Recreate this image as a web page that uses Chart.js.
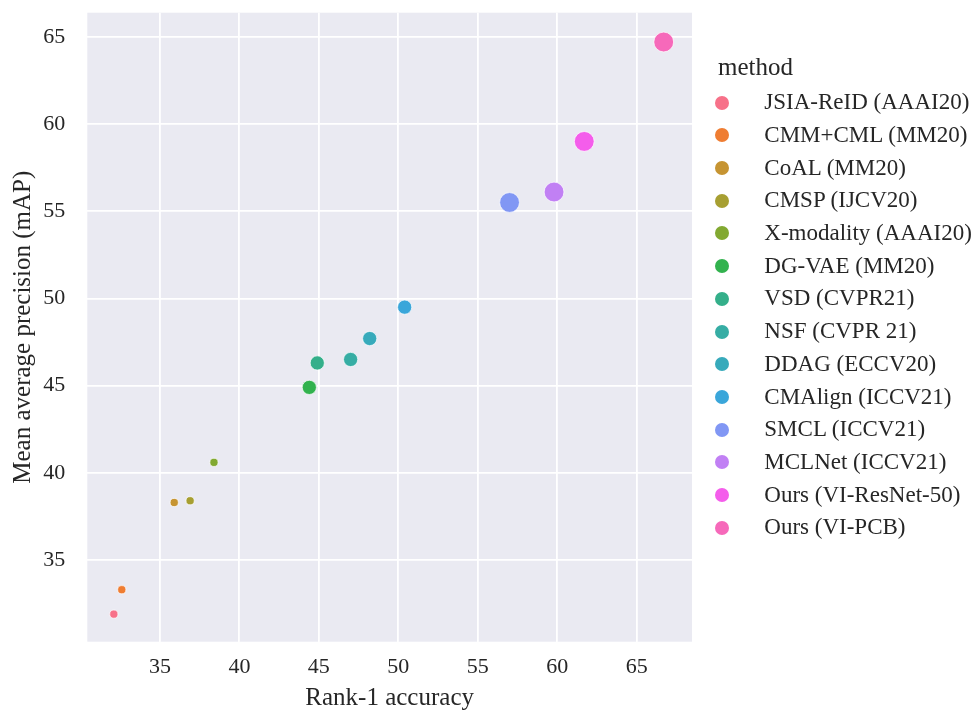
<!DOCTYPE html>
<html>
<head>
<meta charset="utf-8">
<script src="https://cdn.jsdelivr.net/npm/chart.js@4.4.1/dist/chart.umd.min.js"></script>
<style>
  body { margin: 0; background: #fff; }
  #wrap { position: relative; width: 974px; height: 712px; }
  #legend { position: absolute; left: 0; top: 0; font-family: 'Liberation Serif', 'Times New Roman', serif; color: #262626; }
  #legend .title { position: absolute; left: 718px; top: 51.6px; font-size: 25px; line-height: 30px; white-space: nowrap; }
  #legend .items { position: absolute; left: 0; top: 86.35px; }
  #legend .item { position: relative; height: 32.7px; line-height: 32.7px; font-size: 23px; white-space: nowrap; }
  #legend .dot { position: absolute; left: 715px; top: 9.35px; width: 14px; height: 14px; border-radius: 50%; }
  #legend .lbl { position: absolute; left: 764.3px; top: 0; }
</style>
</head>
<body>
<div id="wrap">
  <canvas id="chart" width="974" height="712"></canvas>
  <div id="legend"></div>
</div>
<script>
const methods = [
  'JSIA-ReID (AAAI20)', 'CMM+CML (MM20)', 'CoAL (MM20)', 'CMSP (IJCV20)',
  'X-modality (AAAI20)', 'DG-VAE (MM20)', 'VSD (CVPR21)', 'NSF (CVPR 21)',
  'DDAG (ECCV20)', 'CMAlign (ICCV21)', 'SMCL (ICCV21)', 'MCLNet (ICCV21)',
  'Ours (VI-ResNet-50)', 'Ours (VI-PCB)'
];
const rank1 = [32.1, 32.6, 35.9, 36.9, 38.4, 44.4, 44.9, 47.0, 48.2, 50.4, 57.0, 59.8, 61.7, 66.7];
const mAP = [31.9, 33.3, 38.3, 38.4, 40.6, 44.9, 46.3, 46.5, 47.7, 49.5, 55.5, 56.1, 59.0, 64.7];
const sizeLevel = [1, 1, 1, 1, 1, 2, 2, 2, 2, 2, 3, 3, 3, 3];
const xTicks = [35, 40, 45, 50, 55, 60, 65];
const yTicks = [35, 40, 45, 50, 55, 60, 65];

// seaborn husl palette, 14 hues
const colors = [
  '#f77189', '#ef7d32', '#c69432', '#a79f32', '#82a931', '#32b24e', '#34af8a',
  '#36ada4', '#37aabb', '#3aa6da', '#8197f4', '#c180f4', '#f45deb', '#f669ba'
];

const radius = { 1: 4.1, 2: 7.1, 3: 9.9 };
const textColor = '#262626';
Chart.defaults.font.family = "'Liberation Serif', 'Times New Roman', serif";
Chart.defaults.color = textColor;

const plotBg = {
  id: 'plotBg',
  beforeDraw(chart) {
    const { ctx, chartArea: a } = chart;
    ctx.save();
    ctx.fillStyle = '#eaeaf2';
    ctx.fillRect(a.left, a.top, a.width, a.height);
    ctx.restore();
  }
};

new Chart(document.getElementById('chart'), {
  type: 'scatter',
  data: {
    datasets: methods.map((m, i) => ({
      label: m,
      data: [{ x: rank1[i], y: mAP[i] }],
      backgroundColor: colors[i],
      borderColor: '#ffffff',
      borderWidth: 0.7,
      pointRadius: radius[sizeLevel[i]]
    }))
  },
  options: {
    responsive: false,
    animation: false,
    layout: { padding: { top: 12.7, right: 282, left: 0, bottom: 0 } },
    plugins: { legend: { display: false }, tooltip: { enabled: false } },
    scales: {
      x: {
        type: 'linear', min: 30.43, max: 68.48,
        afterBuildTicks: s => { s.ticks = xTicks.map(v => ({ value: v })); },
        afterFit: s => { s.height = 70.3; s.paddingLeft = 0; s.paddingRight = 0; },
        grid: { color: '#ffffff', lineWidth: 1.8, drawTicks: false },
        border: { display: false },
        ticks: { padding: 12, font: { size: 22 }, color: textColor, callback: v => String(v) },
        title: { display: true, text: 'Rank-1 accuracy', font: { size: 25 }, color: textColor, padding: { top: 0, bottom: -1 } }
      },
      y: {
        type: 'linear', min: 30.32, max: 66.38,
        afterBuildTicks: s => { s.ticks = yTicks.map(v => ({ value: v })); },
        afterFit: s => { s.width = 87.3; s.paddingTop = 0; s.paddingBottom = 0; },
        grid: { color: '#ffffff', lineWidth: 1.8, drawTicks: false },
        border: { display: false },
        ticks: { padding: 22, font: { size: 22 }, color: textColor, callback: v => String(v) },
        title: { display: true, text: 'Mean average precision (mAP)', font: { size: 25 }, color: textColor, padding: { top: 8, bottom: 0 } }
      }
    }
  },
  plugins: [plotBg]
});

// legend in HTML, built from the same arrays
const legend = document.getElementById('legend');
let html = '<div class="title">method</div><div class="items">';
methods.forEach((m, i) => {
  html += '<div class="item"><span class="dot" style="background:' + colors[i] + '"></span><span class="lbl">' + m + '</span></div>';
});
legend.innerHTML = html + '</div>';
</script>
</body>
</html>
